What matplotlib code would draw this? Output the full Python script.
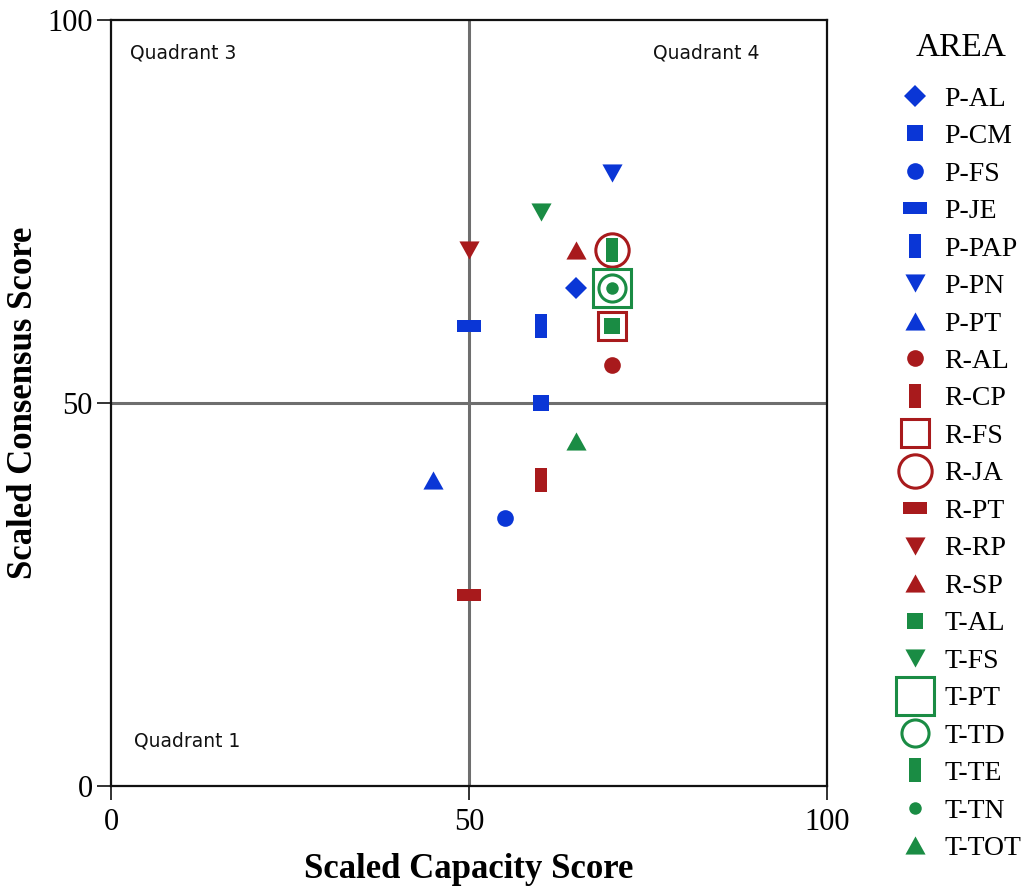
import matplotlib
matplotlib.use("Agg")
import matplotlib.pyplot as plt

# ---- data ----
areas = ["P-AL", "P-CM", "P-FS", "P-JE", "P-PAP", "P-PN", "P-PT",
         "R-AL", "R-CP", "R-FS", "R-JA", "R-PT", "R-RP", "R-SP",
         "T-AL", "T-FS", "T-PT", "T-TD", "T-TE", "T-TN", "T-TOT"]
capacity = [65, 60, 55, 50, 60, 70, 45,
            70, 60, 70, 70, 50, 50, 65,
            70, 60, 70, 70, 70, 70, 65]
consensus = [65, 50, 35, 60, 60, 80, 40,
             55, 40, 60, 70, 25, 70, 70,
             60, 75, 65, 65, 70, 65, 45]
groups = ["P"] * 7 + ["R"] * 7 + ["T"] * 7
x_ticks = [0, 50, 100]
y_ticks = [0, 50, 100]
quadrant_labels = ["Quadrant 3", "Quadrant 4", "Quadrant 1"]

# ---- styles ----
colors = {"P": "#0a36d6", "R": "#a81a1c", "T": "#1a8c44"}
hrect = [(-1, -0.5), (1, -0.5), (1, 0.5), (-1, 0.5), (-1, -0.5)]
vrect = [(-0.55, -1), (0.55, -1), (0.55, 1), (-0.55, 1), (-0.55, -1)]
tri_up = [(0, 0.9), (-1, -0.9), (1, -0.9), (0, 0.9)]
tri_dn = [(0, -0.9), (-1, 0.9), (1, 0.9), (0, -0.9)]
# (marker, size in pt, filled, edge width)
styles = {
    "P-AL": ("D", 11.5, True, 0), "P-CM": ("s", 12, True, 0),
    "P-FS": ("o", 12, True, 0), "P-JE": (hrect, 17.5, True, 0),
    "P-PAP": (vrect, 17, True, 0), "P-PN": (tri_dn, 14.5, True, 0),
    "P-PT": (tri_up, 14.5, True, 0),
    "R-AL": ("o", 12, True, 0), "R-CP": (vrect, 17, True, 0),
    "R-FS": ("s", 20, False, 2.2), "R-JA": ("o", 24, False, 2.2),
    "R-PT": (hrect, 17.5, True, 0), "R-RP": (tri_dn, 14.5, True, 0),
    "R-SP": (tri_up, 14.5, True, 0),
    "T-AL": ("s", 12, True, 0), "T-FS": (tri_dn, 14.5, True, 0),
    "T-PT": ("s", 27.5, False, 2.2), "T-TD": ("o", 19.5, False, 2.2),
    "T-TE": (vrect, 17, True, 0), "T-TN": ("o", 9, True, 0),
    "T-TOT": (tri_up, 14.5, True, 0),
}

fig = plt.figure(figsize=(10.27, 8.90), dpi=100)
ax = fig.add_axes([111 / 1027, 1 - 786 / 890, (827 - 111) / 1027, (786 - 20) / 890])

ax.axvline(50, color="#6e6e6e", lw=2.2, zorder=1)
ax.axhline(50, color="#6e6e6e", lw=2.2, zorder=1)

for name, cx, cy, g in zip(areas, capacity, consensus, groups):
    m, ms, filled, mew = styles[name]
    c = colors[g]
    ax.plot([cx], [cy], linestyle="none", marker=m, markersize=ms,
            markerfacecolor=c if filled else "none",
            markeredgecolor=c, markeredgewidth=mew if not filled else 0.0,
            label=name, zorder=3)

ax.set_xlim(0, 100)
ax.set_ylim(0, 100)
ax.set_xticks(x_ticks)
ax.set_yticks(y_ticks)
ax.tick_params(length=10, width=1.3, labelsize=22, pad=3, color="#222222")
ax.tick_params(axis="x", pad=6)
for lab in ax.get_xticklabels() + ax.get_yticklabels():
    lab.set_fontfamily("Liberation Serif")
for sp in ax.spines.values():
    sp.set_linewidth(1.6)
    sp.set_color("#111111")

ax.set_xlabel("Scaled Capacity Score", fontsize=25, fontweight="bold",
              family="Liberation Serif", labelpad=11)
ax.set_ylabel("Scaled Consensus Score", fontsize=25, fontweight="bold",
              family="Liberation Serif", labelpad=5)

qfont = dict(fontsize=13.5, family="DejaVu Sans", color="#111111")
ax.text(2.6, 95.7, quadrant_labels[0], ha="left", va="center", **qfont)
ax.text(90.6, 95.7, quadrant_labels[1], ha="right", va="center", **qfont)
ax.text(3.2, 5.9, quadrant_labels[2], ha="left", va="center", **qfont)

fig.text(961 / 1027, 1 - 48 / 890, "AREA", ha="center", va="center",
         fontsize=24, family="Liberation Serif")

leg = ax.legend(loc="upper left", bbox_to_anchor=(876 / 1027, 1 - 64 / 890),
                bbox_transform=fig.transFigure, frameon=False,
                prop={"family": "Liberation Serif", "size": 20},
                handlelength=1.2, handletextpad=0.45, labelspacing=0.433,
                borderpad=0.3, markerscale=1.0)

fig.savefig("out.png", dpi=100)
